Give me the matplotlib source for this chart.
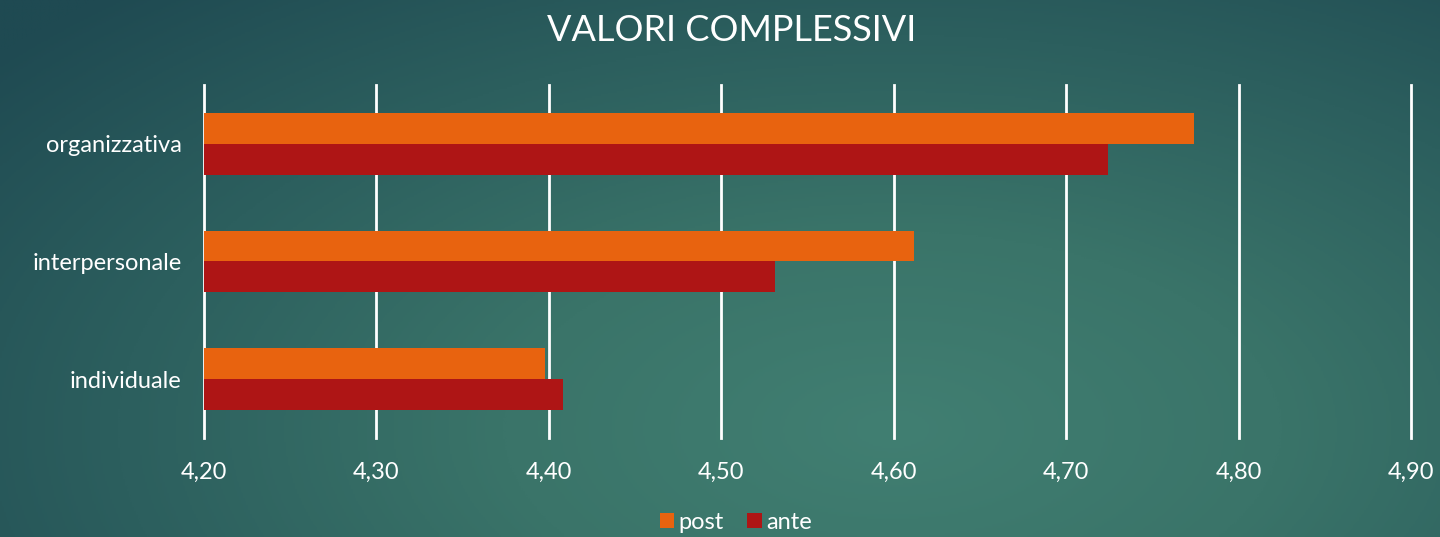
import matplotlib.pyplot as plt
import numpy as np
from matplotlib.colors import LinearSegmentedColormap

plt.rcParams["font.family"] = ["Lato", "DejaVu Sans"]

CATEGORIES = ["individuale", "interpersonale", "organizzativa"]
POST = [4.398, 4.612, 4.774]
ANTE = [4.408, 4.531, 4.724]
X_TICKS = [4.20, 4.30, 4.40, 4.50, 4.60, 4.70, 4.80, 4.90]

POST_COLOR = "#E8630F"
ANTE_COLOR = "#AE1515"


def draw_background(fig):
    bg = fig.add_axes([0, 0, 1, 1], zorder=-10)
    yy, xx = np.mgrid[0:1:300j, 0:1:800j]
    # soft glow lower-middle, darker toward the upper-left corner
    d = np.sqrt(((xx - 0.62) / 0.95) ** 2 + ((yy - 0.2) / 1.3) ** 2)
    cmap = LinearSegmentedColormap.from_list(
        "teal", ["#417F72", "#3A7469", "#2C5F5E", "#1F4A52"]
    )
    bg.imshow(d, cmap=cmap, vmin=0, vmax=0.85, aspect="auto",
              extent=[0, 1, 0, 1], origin="lower")
    bg.axis("off")


def main():
    fig = plt.figure(figsize=(14.4, 5.37), dpi=100)
    draw_background(fig)

    ax = fig.add_axes([0.1417, 0.1844, 0.8382, 0.6573])
    ax.set_facecolor("none")

    y = np.arange(len(CATEGORIES))
    h = 0.263
    ax.barh(y + h / 2, [v - 4.2 for v in POST], left=4.2, height=h,
            color=POST_COLOR, label="post", zorder=3)
    ax.barh(y - h / 2, [v - 4.2 for v in ANTE], left=4.2, height=h,
            color=ANTE_COLOR, label="ante", zorder=3)

    ax.set_xlim(4.2, 4.9)
    ax.set_ylim(-0.5, 2.5)
    ax.set_xticks(X_TICKS)
    ax.set_xticklabels([f"{t:.2f}".replace(".", ",") for t in X_TICKS])
    ax.set_yticks(y)
    ax.set_yticklabels(CATEGORIES)
    ax.tick_params(axis="both", length=0, colors="white", labelsize=17)
    ax.tick_params(axis="x", pad=17)
    ax.tick_params(axis="y", pad=16)
    ax.grid(axis="x", color="white", linewidth=2, zorder=0)
    for gl in ax.get_xgridlines():
        gl.set_clip_on(False)
    ax.set_axisbelow(True)
    for s in ax.spines.values():
        s.set_visible(False)

    fig.text(0.508, 0.943, "VALORI COMPLESSIVI", ha="center", va="center",
             color="white", fontsize=26)

    leg = ax.legend(loc="center", bbox_to_anchor=(0.511, 0.027),
                    bbox_transform=fig.transFigure, ncol=2, frameon=False,
                    fontsize=17, handlelength=0.6, handleheight=0.6,
                    handletextpad=0.2, columnspacing=1.0)
    for t in leg.get_texts():
        t.set_color("white")

    fig.savefig("out.png", dpi=100)
    plt.close(fig)


if __name__ == "__main__":
    main()
